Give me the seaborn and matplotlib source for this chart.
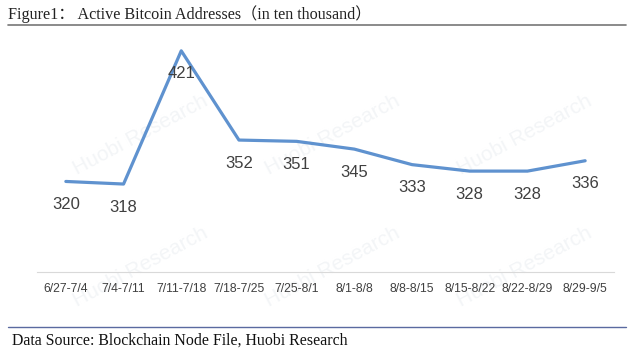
import seaborn as sns
import matplotlib.pyplot as plt
import pandas as pd
from matplotlib.lines import Line2D

weeks = ["6/27-7/4", "7/4-7/11", "7/11-7/18", "7/18-7/25", "7/25-8/1",
         "8/1-8/8", "8/8-8/15", "8/15-8/22", "8/22-8/29", "8/29-9/5"]
addresses = [320, 318, 421, 352, 351, 345, 333, 328, 328, 336]

df = pd.DataFrame({"week": weeks, "addresses": addresses})

sns.set_style("white")
plt.rcParams['font.family'] = ['Liberation Sans', 'DejaVu Sans']

fig = plt.figure(figsize=(6.4, 3.56), dpi=100)
ax = fig.add_axes([37 / 640, 1 - 272 / 356, 577 / 640, 0.7267])

# faint watermark, kept behind the chart
for wx in [0.22, 0.52, 0.82]:
    for wy in [0.25, 0.62]:
        fig.text(wx, wy, "Huobi Research", rotation=28, fontsize=15, color="#f3f5f7",
                 ha="center", va="center", zorder=-5)

sns.lineplot(data=df, x="week", y="addresses", sort=False, color="#5f92cf",
             linewidth=2.3, ax=ax)

for w, v in zip(weeks, addresses):
    ax.annotate(str(v), (w, v), xytext=(0, -23), textcoords="offset pixels",
                ha="center", va="center", fontsize=12, color="#404040")

ax.set_xlim(-0.5, len(weeks) - 0.5)
ax.set_ylim(250, 450)
ax.set_xlabel("")
ax.set_ylabel("")
ax.set_yticks([])
for side in ["top", "left", "right"]:
    ax.spines[side].set_visible(False)
ax.spines["bottom"].set_color("#d9d9d9")
ax.spines["bottom"].set_linewidth(0.8)
ax.tick_params(axis="x", length=0, labelsize=8.8, colors="#404040", pad=8)
ax.patch.set_alpha(0)

# header and footer
fig.text(8 / 640, 1 - 14 / 356, "Figure1： Active Bitcoin Addresses（in ten thousand）",
         family=["Liberation Serif", "Noto Sans CJK SC"], fontsize=11.6, color="#222222",
         ha="left", va="center")
fig.add_artist(Line2D([8 / 640, 626 / 640], [1 - 25 / 356, 1 - 25 / 356],
                      color="#777777", linewidth=1.2))
fig.add_artist(Line2D([8 / 640, 626 / 640], [1 - 327 / 356, 1 - 327 / 356],
                      color="#5a6aa0", linewidth=1.0))
fig.text(12 / 640, 1 - 341 / 356, "Data Source: Blockchain Node File, Huobi Research",
         family=["Liberation Serif"], fontsize=11.4, color="#111111",
         ha="left", va="center")

fig.savefig("out.png", dpi=100)
